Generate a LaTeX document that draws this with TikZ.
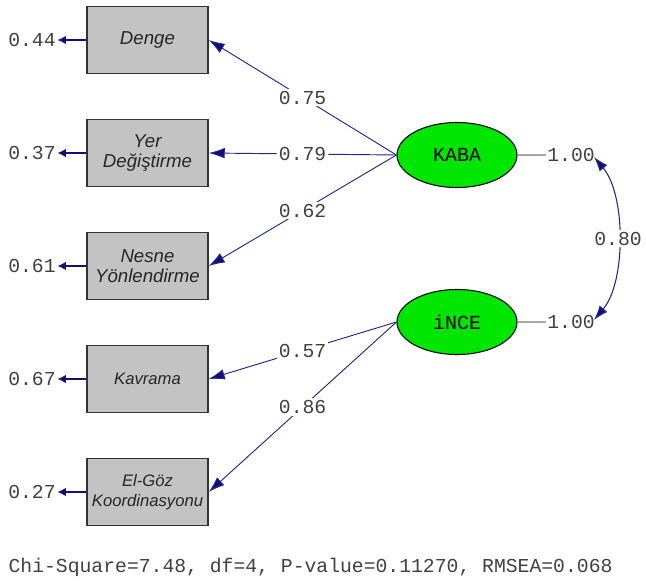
\documentclass[tikz,border=0pt]{standalone}
\usepackage{fontspec}
\setmainfont{Liberation Sans}
\newfontfamily\monof{Liberation Mono}
\usetikzlibrary{shapes.geometric,arrows.meta}
\definecolor{navy}{HTML}{24248E}
\definecolor{headnavy}{HTML}{10107A}
\definecolor{txt}{HTML}{404040}
\definecolor{boxgray}{HTML}{C3C3C3}
\definecolor{latgreen}{HTML}{00E600}
\begin{document}
\begin{tikzpicture}[x=0.75pt,y=-0.75pt,
  obs/.style={draw=black!80, line width=1.1pt, fill=boxgray, minimum width=90.75pt,
    minimum height=50.25pt, inner sep=0pt, align=center, text=black!85,
    font=\itshape\fontsize{12.5}{15}\selectfont},
  big/.style={font=\itshape\fontsize{14}{15}\selectfont},
  lat/.style={ellipse, draw=black, line width=0.8pt, fill=latgreen, minimum width=90pt,
    minimum height=48.75pt, inner sep=0pt, font=\monof\fontsize{15}{17}\selectfont},
  num/.style={font=\monof\fontsize{14.8}{16}\selectfont, text=txt, inner sep=1pt},
  onl/.style={num, fill=white, inner sep=1.5pt},
  load/.style={draw=navy, line width=0.7pt, -{Latex[length=12pt,width=8pt,fill=headnavy]}},
  resid/.style={draw=headnavy, line width=1.9pt, -{Latex[length=6.5pt,width=6.5pt]}},
  varl/.style={draw=black!35, line width=0.9pt},
  cov/.style={draw=navy, line width=0.8pt, {Latex[length=11pt,width=7.5pt,fill=headnavy]}-{Latex[length=11pt,width=7.5pt,fill=headnavy]}}
]
\useasboundingbox (0,0) rectangle (646,585);

% observed variables
\node[obs, big] (den) at (147.5,40) {Denge};
\node[obs, big] (yer) at (147.5,153) {Yer\\Değiştirme};
\node[obs, big] (nes) at (147.5,266) {Nesne\\Yönlendirme};
\node[obs] (kav) at (147.5,379) {Kavrama};
\node[obs] (elg) at (147.5,492) {El-Göz\\Koordinasyonu};

% residual variances
\node[num] (r1) at (32,40) {0.44};
\node[num] (r2) at (32,153) {0.37};
\node[num] (r3) at (32,266) {0.61};
\node[num] (r4) at (32,379) {0.67};
\node[num] (r5) at (32,492) {0.27};
\draw[resid] (den.west) -- (r1.east);
\draw[resid] (yer.west) -- (r2.east);
\draw[resid] (nes.west) -- (r3.east);
\draw[resid] (kav.west) -- (r4.east);
\draw[resid] (elg.west) -- (r5.east);

% latent variables
\node[lat] (kaba) at (457,155) {KABA};
\node[lat] (ince) at (457,322) {iNCE};

% loadings
\draw[load] (kaba.west) -- node[onl, pos=0.5] {0.75} (den.east);
\draw[load] (kaba.west) -- node[onl, pos=0.5] {0.79} (yer.east);
\draw[load] (kaba.west) -- node[onl, pos=0.5] {0.62} (nes.east);
\draw[load] (ince.west) -- node[onl, pos=0.5] {0.57} (kav.east);
\draw[load] (ince.west) -- node[onl, pos=0.5] {0.86} (elg.east);

% latent variances
\node[num] (v1) at (571,155) {1.00};
\node[num] (v2) at (571,322) {1.00};
\draw[varl] (kaba.east) -- (v1.west);
\draw[varl] (ince.east) -- (v2.west);

% covariance
\coordinate (c1) at (594,157);
\coordinate (c2) at (594,320);
\draw[cov] (c1) .. controls (626,195) and (626,282) .. node[onl, pos=0.5] {0.80} (c2);

% fit statistics
\node[num, anchor=west] (fit) at (7,567) {Chi-Square=7.48, df=4, P-value=0.11270, RMSEA=0.068};
\end{tikzpicture}
\end{document}
